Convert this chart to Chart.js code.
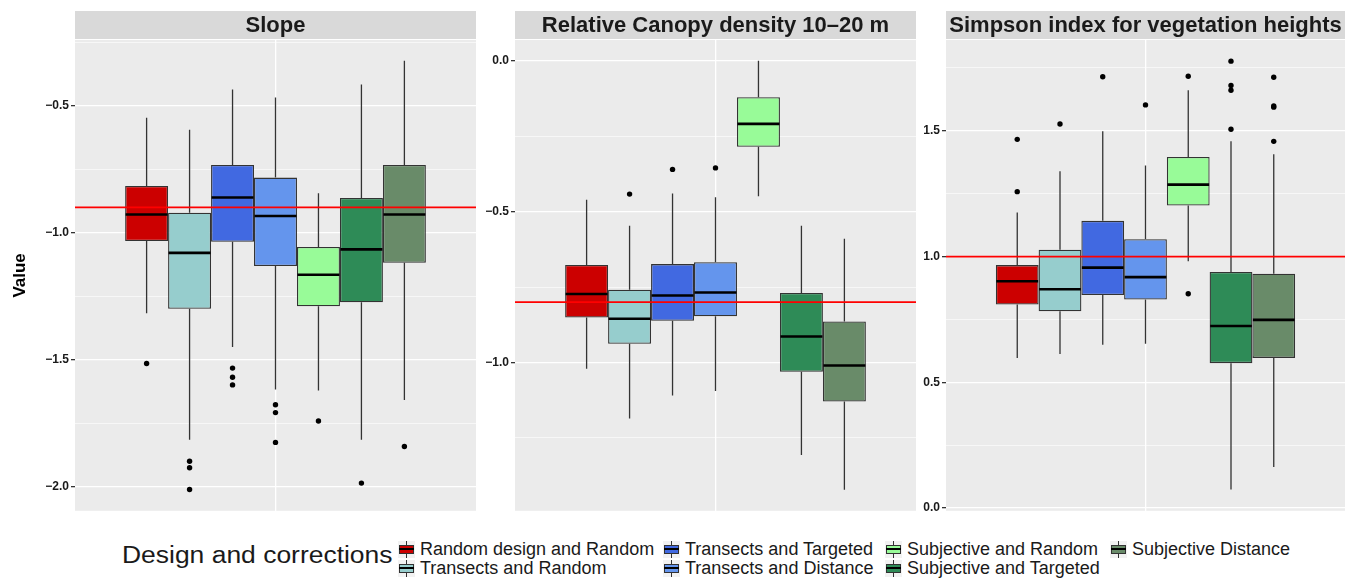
<!DOCTYPE html>
<html>
<head>
<meta charset="utf-8">
<script src="https://cdn.jsdelivr.net/npm/chart.js@4.4.0/dist/chart.umd.min.js"></script>
<style>
  body { margin: 0; background: #fff; font-family: "Liberation Sans", Arial, sans-serif; }
  #wrap { position: relative; width: 1353px; height: 580px; overflow: hidden; }
  #wrap canvas { position: absolute; top: 0; }
  .legtitle { position: absolute; left: 122px; top: 541px; font-size: 23px; line-height: 28px; color: #1a1a1a; white-space: nowrap; transform-origin: left center; transform: scaleX(1.15); }
  .legtext { position: absolute; font-size: 18px; line-height: 18px; color: #1a1a1a; white-space: nowrap; }
  .key { position: absolute; width: 17px; height: 17px; background: #f2f2f2; }
  .key .wh { position: absolute; left: 8px; top: 0; width: 1px; height: 17px; background: #333; }
  .key .bx { position: absolute; left: 1px; top: 4px; width: 13px; height: 7px; border: 1px solid #333; }
  .key .md { position: absolute; left: 1px; top: 7.5px; width: 15px; height: 2px; background: #000; }
</style>
</head>
<body>
<div id="wrap">
  <canvas id="c1" width="477" height="520" style="left:0px"></canvas>
  <canvas id="c2" width="440" height="520" style="left:477px"></canvas>
  <canvas id="c3" width="436" height="520" style="left:917px"></canvas>
</div>
<script>
// groups (legend order = box order inside each panel)
const groups = ['Random design and Random', 'Transects and Random', 'Transects and Targeted',
  'Transects and Distance', 'Subjective and Random', 'Subjective and Targeted', 'Subjective Distance'];
const fills = ['#CC0000', '#96CDCD', '#4169E1', '#6495ED', '#98FB98', '#2E8B57', '#698B69'];

// Slope
const slopeLow  = [-1.316, -1.814, -1.449, -1.616, -1.620, -1.814, -1.657];
const slopeQ1   = [-1.032, -1.299, -1.035, -1.131, -1.289, -1.273, -1.118];
const slopeMed  = [-0.928, -1.079, -0.861, -0.934, -1.165, -1.065, -0.928];
const slopeQ3   = [-0.816, -0.921, -0.733, -0.783, -1.056, -0.863, -0.733];
const slopeHigh = [-0.548, -0.595, -0.437, -0.468, -0.845, -0.417, -0.324];
const slopeOut  = [[-1.514], [-1.898, -1.924, -2.009], [-1.532, -1.568, -1.598],
  [-1.676, -1.707, -1.824], [-1.74], [-1.984], [-1.84]];
const slopeRef = -0.9;

// Relative Canopy density 10-20 m
const canopyLow  = [-1.021, -1.186, -1.110, -1.095, -0.449, -1.307, -1.422];
const canopyQ1   = [-0.851, -0.938, -0.862, -0.847, -0.285, -1.031, -1.130];
const canopyMed  = [-0.773, -0.855, -0.778, -0.768, -0.209, -0.914, -1.010];
const canopyQ3   = [-0.677, -0.759, -0.674, -0.668, -0.121, -0.770, -0.864];
const canopyHigh = [-0.461, -0.547, -0.440, -0.452, 0.0, -0.547, -0.590];
const canopyOut  = [[], [-0.442], [-0.360], [-0.355], [], [], []];
const canopyRef = -0.8;

// Simpson index for vegetation heights
const simpLow  = [0.597, 0.612, 0.649, 0.653, 0.981, 0.074, 0.163];
const simpQ1   = [0.809, 0.782, 0.847, 0.829, 1.203, 0.576, 0.597];
const simpMed  = [0.902, 0.870, 0.956, 0.918, 1.286, 0.724, 0.748];
const simpQ3   = [0.966, 1.027, 1.142, 1.069, 1.396, 0.939, 0.932];
const simpHigh = [1.175, 1.339, 1.498, 1.362, 1.661, 1.458, 1.407];
const simpOut  = [[1.258, 1.466], [1.527], [1.715], [1.603], [1.717, 0.852],
  [1.777, 1.680, 1.661, 1.506], [1.713, 1.599, 1.594, 1.458]];
const simpRef = 1.0;

const FONT = '"Liberation Sans", Arial, sans-serif';

// panel background, strip, whiskers, medians, outliers and the red reference line
const boxPlugin = {
  id: 'box',
  beforeDraw(chart, args, o) {
    const {ctx, chartArea: a} = chart;
    ctx.save();
    ctx.fillStyle = '#EBEBEB';
    ctx.fillRect(a.left, a.top, a.right - a.left, a.bottom - a.top);
    ctx.fillStyle = '#D9D9D9';
    ctx.fillRect(a.left, 11, a.right - a.left, 28);
    ctx.fillStyle = '#1a1a1a';
    ctx.font = 'bold 22px ' + FONT;
    ctx.textAlign = 'center';
    ctx.textBaseline = 'middle';
    ctx.fillText(o.title, (a.left + a.right) / 2, 26);
    ctx.restore();
  },
  afterDatasetsDraw(chart, args, o) {
    const {ctx, chartArea: a} = chart;
    const y = chart.scales.y;
    ctx.save();
    chart.data.datasets.forEach((ds, i) => {
      const bar = chart.getDatasetMeta(i).data[0];
      const {x, width} = bar.getProps(['x', 'width'], true);
      ctx.strokeStyle = '#333';
      ctx.lineWidth = 1.3;
      ctx.beginPath();
      ctx.moveTo(x, y.getPixelForValue(o.q3[i]));
      ctx.lineTo(x, y.getPixelForValue(o.high[i]));
      ctx.moveTo(x, y.getPixelForValue(o.q1[i]));
      ctx.lineTo(x, y.getPixelForValue(o.low[i]));
      ctx.stroke();

      const my = y.getPixelForValue(o.med[i]);
      ctx.strokeStyle = '#000';
      ctx.lineWidth = 2.6;
      ctx.beginPath();
      ctx.moveTo(x - width / 2 + 0.5, my);
      ctx.lineTo(x + width / 2 - 0.5, my);
      ctx.stroke();

      ctx.fillStyle = '#000';
      for (const v of o.out[i]) {
        ctx.beginPath();
        ctx.arc(x, y.getPixelForValue(v), 2.7, 0, Math.PI * 2);
        ctx.fill();
      }
    });
    const ry = y.getPixelForValue(o.ref);
    ctx.strokeStyle = '#FF0000';
    ctx.lineWidth = 1.8;
    ctx.beginPath();
    ctx.moveTo(a.left, ry);
    ctx.lineTo(a.right, ry);
    ctx.stroke();
    ctx.restore();
  }
};

const isMajor = v => Math.abs(v * 2 - Math.round(v * 2)) < 1e-6;

function makePanel(id, cfg) {
  const datasets = groups.map((g, i) => ({
    label: g,
    data: [[cfg.q1[i], cfg.q3[i]]],
    backgroundColor: fills[i],
    borderColor: '#333',
    borderWidth: 1.3,
    borderSkipped: false,
    categoryPercentage: 0.75,
    barPercentage: 1.0
  }));
  return new Chart(id, {
    type: 'bar',
    data: { labels: [''], datasets: datasets },
    options: {
      responsive: false,
      animation: false,
      devicePixelRatio: 1,
      layout: { padding: { top: 40, bottom: 7, left: 0, right: cfg.padR } },
      plugins: {
        legend: { display: false },
        tooltip: { enabled: false },
        box: cfg
      },
      scales: {
        x: {
          ticks: { display: false },
          border: { display: false },
          grid: { offset: false, color: '#fff', lineWidth: 1.3, drawTicks: false },
          afterFit: s => { s.height = 0; }
        },
        y: {
          min: cfg.min,
          max: cfg.max,
          border: { display: false },
          title: cfg.yTitle ? {
            display: true, text: cfg.yTitle, color: '#000',
            font: { family: FONT, size: 17, weight: 'bold' }, padding: { top: 10, bottom: 0 }
          } : { display: false },
          ticks: {
            stepSize: 0.25,
            includeBounds: false,
            autoSkip: false,
            padding: 2,
            color: '#1a1a1a',
            font: { family: FONT, size: 12, weight: 'bold' },
            callback: v => isMajor(v) ? v.toFixed(1).replace('-', '\u2212') : ''
          },
          grid: {
            color: '#fff',
            lineWidth: c => isMajor(c.tick.value) ? 1.3 : 0.6,
            tickLength: 4,
            tickColor: c => isMajor(c.tick.value) ? '#333' : 'rgba(0,0,0,0)'
          },
          afterFit: s => { s.width = cfg.axisW; }
        }
      }
    },
    plugins: [boxPlugin]
  });
}

makePanel('c1', { title: 'Slope', yTitle: 'Value', low: slopeLow, q1: slopeQ1, med: slopeMed, q3: slopeQ3,
  high: slopeHigh, out: slopeOut, ref: slopeRef, min: -2.093, max: -0.242, axisW: 75, padR: 1 });
makePanel('c2', { title: 'Relative Canopy density 10\u201320 m', low: canopyLow, q1: canopyQ1, med: canopyMed,
  q3: canopyQ3, high: canopyHigh, out: canopyOut, ref: canopyRef, min: -1.492, max: 0.069, axisW: 38, padR: 1 });
makePanel('c3', { title: 'Simpson index for vegetation heights', low: simpLow, q1: simpQ1, med: simpMed,
  q3: simpQ3, high: simpHigh, out: simpOut, ref: simpRef, min: -0.011, max: 1.861, axisW: 29, padR: 8 });

// legend: two rows, filled column by column
const wrap = document.getElementById('wrap');
const t = document.createElement('div');
t.className = 'legtitle';
t.textContent = 'Design and corrections';
wrap.appendChild(t);
const colX = [398, 663, 885, 1110];
const rowY = [549, 568];
groups.forEach((g, i) => {
  const kx = colX[Math.floor(i / 2)], cy = rowY[i % 2];
  const k = document.createElement('div');
  k.className = 'key';
  k.style.left = kx + 'px';
  k.style.top = (cy - 8.5) + 'px';
  k.innerHTML = '<div class="wh"></div><div class="bx" style="background:' + fills[i] + '"></div><div class="md"></div>';
  wrap.appendChild(k);
  const s = document.createElement('div');
  s.className = 'legtext';
  s.style.left = (kx + 22) + 'px';
  s.style.top = (cy - 9) + 'px';
  s.textContent = g;
  wrap.appendChild(s);
});
</script>
</body>
</html>
